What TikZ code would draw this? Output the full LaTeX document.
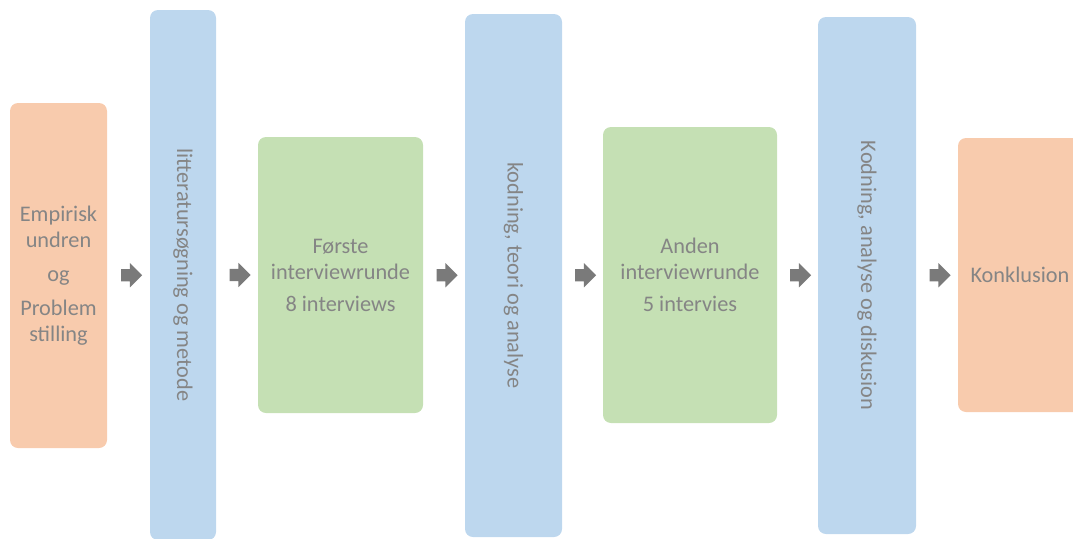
\documentclass[tikz,border=0pt]{standalone}
\usepackage{fontspec}
\setmainfont{Carlito}
\usetikzlibrary{shapes.arrows,calc}
\definecolor{peach}{HTML}{F8CBAD}
\definecolor{skyblue}{HTML}{BDD7EE}
\definecolor{leaf}{HTML}{C5E0B4}
\definecolor{txtgray}{HTML}{858585}
\definecolor{arrgray}{HTML}{7A7A7A}
\tikzset{
  box/.style={rounded corners=8pt, inner sep=0pt, align=center,
    text=txtgray, font=\fontsize{22.3}{26}\selectfont},
  endbox/.style={box, fill=peach},
  stagebox/.style={box, fill=leaf},
  column/.style={box, fill=skyblue, rotate=-90},
  flow/.style={single arrow, fill=arrgray, draw=none, inner sep=0pt,
    minimum height=21pt, single arrow head extend=6pt,
    single arrow head indent=0pt}
}
% the empty strut fixes the shaft thickness of the block arrows
\newcommand{\shaft}{\rule{0pt}{12pt}}
\begin{document}
\begin{tikzpicture}[x=1pt,y=-1pt]
\useasboundingbox (0,0) rectangle (1073,538);
\clip (0,0) rectangle (1073,538);

% process stages, left to right
\node[endbox, minimum width=97pt, minimum height=345pt] (start) at (58.5,275.5)
  {Empirisk\\undren\\[8pt]og\\[8pt]Problem\\stilling};
\node[column, minimum width=530pt, minimum height=66pt] (lit) at (183,275)
  {litteratursøgning og metode};
\node[stagebox, minimum width=165pt, minimum height=276pt] (first) at (340.5,275)
  {Første\\interviewrunde\\[6pt]8 interviews};
\node[column, minimum width=523pt, minimum height=97pt] (code1) at (513.5,275.5)
  {kodning, teori og analyse};
\node[stagebox, minimum width=174pt, minimum height=296pt] (second) at (690,275)
  {Anden\\interviewrunde\\[6pt]5 intervies};
\node[column, minimum width=517pt, minimum height=98pt] (code2) at (867,275.5)
  {Kodning, analyse og diskusion};
\node[endbox, minimum width=124pt, minimum height=274pt] (end) at (1020,275)
  {Konklusion};

% block arrows halfway between neighbouring stages
\node[flow] (a1) at ($(start.east)!0.5!(lit.south)$) {\shaft};
\node[flow] (a2) at ($(lit.north)!0.5!(first.west)$) {\shaft};
\node[flow] (a3) at ($(first.east)!0.5!(code1.south)$) {\shaft};
\node[flow] (a4) at ($(code1.north)!0.5!(second.west)$) {\shaft};
\node[flow] (a5) at ($(second.east)!0.5!(code2.south)$) {\shaft};
\node[flow] (a6) at ($(code2.north)!0.5!(end.west)$) {\shaft};
\end{tikzpicture}
\end{document}
